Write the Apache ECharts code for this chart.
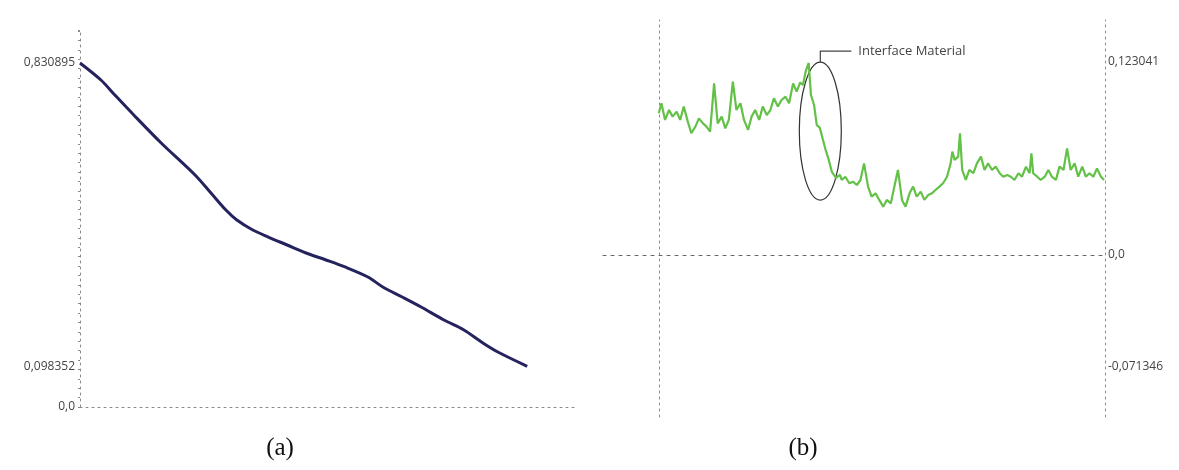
<!DOCTYPE html>
<html>
<head>
<meta charset="utf-8">
<script src="https://cdn.jsdelivr.net/npm/echarts@6/dist/echarts.min.js"></script>
<style>
  html, body { margin: 0; padding: 0; background: #fff; }
  #chart { width: 1179px; height: 470px; }
</style>
</head>
<body>
<div id="chart"></div>
<script>
// panel (a): depth profile, x in % of scan length
const aX = [0, 4.2, 7.0, 10.8, 16.3, 23.1, 26.3, 29.3, 31.5, 34.7, 37.8, 41.6, 45.4, 49.4, 53.2, 57.8, 60.8, 64.7, 68.5, 73.1, 77.1, 80.9, 83.9, 89.8];
const aY = [0.830895, 0.7898, 0.7536, 0.7053, 0.6377, 0.5604, 0.5169, 0.4758, 0.4517, 0.4275, 0.4106, 0.3913, 0.3720, 0.3551, 0.3382, 0.3140, 0.2899, 0.2657, 0.2415, 0.2101, 0.1860, 0.1546, 0.1328, 0.098352];
const aTicks = [0, 0.098352, 0.830895];

// panel (b): roughness signal, x in 0..1000
const bX = [0, 6, 14, 23, 31, 40, 48, 56, 65, 73, 82, 90, 99, 107, 115, 124, 132, 141, 149, 157,
  166, 174, 183, 191, 200, 208, 216, 225, 233, 242, 250, 258, 267, 275, 284, 292, 301, 309, 317, 323,
  330, 336, 341, 348, 354, 361, 368, 374, 381, 388, 397, 406, 410, 418, 427, 435, 444, 452,
  460, 469, 477, 486, 494, 503, 511, 520, 528, 536, 545, 553, 562, 570, 578, 587, 595, 604, 612, 620,
  629, 637, 646, 654, 658, 663, 671, 675, 680, 688, 696, 705, 713, 722, 730, 738, 747, 755, 764, 772,
  781, 789, 797, 806, 814, 823, 831, 835, 839, 848, 856, 865, 873, 881, 890, 898, 907, 915, 923, 932,
  940, 949, 957, 965, 974, 982, 991, 998];
const bY = [0.0903, 0.0967, 0.0861, 0.0924, 0.0882, 0.0914, 0.0861, 0.0946, 0.0850, 0.0776, 0.0818, 0.0871, 0.0839, 0.0818, 0.0786, 0.1094, 0.0839, 0.0882, 0.0807, 0.0861,
  0.1105, 0.0924, 0.0967, 0.0861, 0.0797, 0.0882, 0.0924, 0.0861, 0.0946, 0.0892, 0.0924, 0.0999, 0.0946, 0.0988, 0.1009, 0.0967, 0.1094, 0.1041, 0.1100, 0.1084,
  0.1179, 0.1224, 0.1020, 0.0956, 0.0829, 0.0810, 0.0733, 0.0669, 0.0606, 0.0529, 0.0491, 0.0510, 0.0478, 0.0499, 0.0457, 0.0467, 0.0446, 0.0478,
  0.0584, 0.0436, 0.0372, 0.0393, 0.0351, 0.0308, 0.0351, 0.0329, 0.0436, 0.0542, 0.0351, 0.0308, 0.0393, 0.0436, 0.0372, 0.0404, 0.0351, 0.0382, 0.0393, 0.0414,
  0.0436, 0.0457, 0.0499, 0.0584, 0.0659, 0.0606, 0.0627, 0.0776, 0.0542, 0.0478, 0.0542, 0.0521, 0.0584, 0.0627, 0.0542, 0.0584, 0.0542, 0.0563, 0.0521, 0.0499,
  0.0510, 0.0499, 0.0478, 0.0521, 0.0499, 0.0563, 0.0521, 0.0648, 0.0521, 0.0499, 0.0478, 0.0499, 0.0542, 0.0499, 0.0478, 0.0563, 0.0542, 0.0680, 0.0542, 0.0584,
  0.0499, 0.0563, 0.0499, 0.0521, 0.0499, 0.0552, 0.0499, 0.0478];
const bTicks = [-0.071346, 0, 0.123041];

// where the "Interface Material" ellipse sits (data units of panel b)
const interfaceAt = [362, 0.079];

const fmt = v => (v === 0 ? '0,0' : String(v).replace('.', ','));
const dots = { color: '#8a8a8a', width: 1, type: [2, 4] };
const labelStyle = { color: '#444', fontSize: 12, fontFamily: 'Open Sans' };

const chart = echarts.init(document.getElementById('chart'));

chart.setOption({
  animation: false,
  grid: [
    { left: 80, top: 30, width: 498, height: 377 },
    { left: 603, top: 20, width: 502, height: 397 }
  ],
  xAxis: [
    {
      gridIndex: 0, type: 'value', min: 0, max: 100,
      axisLine: { lineStyle: dots },
      axisTick: { show: false }, axisLabel: { show: false }, splitLine: { show: false }
    },
    {
      gridIndex: 1, type: 'value', min: -125, max: 1000,
      axisLine: { onZero: true, onZeroAxisIndex: 1, lineStyle: { color: '#666', width: 1, type: [3, 5] } },
      axisTick: { show: false }, axisLabel: { show: false }, splitLine: { show: false }
    }
  ],
  yAxis: [
    {
      gridIndex: 0, type: 'value', min: 0, max: 0.9106, interval: 0.0227,
      axisLine: { show: true, lineStyle: dots },
      axisTick: { show: true, length: 2, lineStyle: { color: '#888' } },
      axisLabel: { ...labelStyle, margin: 5, customValues: aTicks, formatter: fmt },
      splitLine: { show: false }
    },
    {
      gridIndex: 1, type: 'value', min: -0.1033, max: 0.1498,
      axisLine: { show: true, onZero: true, lineStyle: dots },
      axisTick: { show: false }, axisLabel: { show: false }, splitLine: { show: false }
    },
    {
      gridIndex: 1, type: 'value', position: 'right', min: -0.1033, max: 0.1498,
      axisLine: { show: true, onZero: false, lineStyle: dots },
      axisTick: { show: false },
      axisLabel: { ...labelStyle, margin: 3, customValues: bTicks, formatter: fmt },
      splitLine: { show: false }
    }
  ],
  series: [
    {
      type: 'line', xAxisIndex: 0, yAxisIndex: 0,
      data: aX.map((x, i) => [x, aY[i]]),
      smooth: 0.3, showSymbol: false,
      lineStyle: { color: '#25235e', width: 3 }
    },
    {
      type: 'line', xAxisIndex: 1, yAxisIndex: 1,
      data: bX.map((x, i) => [x, bY[i]]),
      showSymbol: false,
      lineStyle: { color: '#62c146', width: 2.2 }
    }
  ]
});

// annotation, placed from the data position of the interface zone
const c = chart.convertToPixel({ xAxisIndex: 1, yAxisIndex: 1 }, interfaceAt);
const rx = 21, ry = 69;
const topY = c[1] - ry;
chart.setOption({
  graphic: [
    { type: 'ellipse', shape: { cx: c[0], cy: c[1], rx: rx, ry: ry },
      style: { fill: 'none', stroke: '#333', lineWidth: 1.2 } },
    { type: 'polyline', shape: { points: [[c[0], topY], [c[0], topY - 11], [c[0] + 31, topY - 11]] },
      style: { fill: 'none', stroke: '#444', lineWidth: 1.2 } },
    { type: 'text', x: c[0] + 38, y: topY - 11,
      style: { text: 'Interface Material', fill: '#444', font: '13px "Open Sans"', textVerticalAlign: 'middle' } },
    { type: 'text', x: 280, y: 448,
      style: { text: '(a)', fill: '#111', font: '25px "Liberation Serif"', textAlign: 'center', textVerticalAlign: 'middle' } },
    { type: 'text', x: 803, y: 448,
      style: { text: '(b)', fill: '#111', font: '25px "Liberation Serif"', textAlign: 'center', textVerticalAlign: 'middle' } }
  ]
});
</script>
</body>
</html>
